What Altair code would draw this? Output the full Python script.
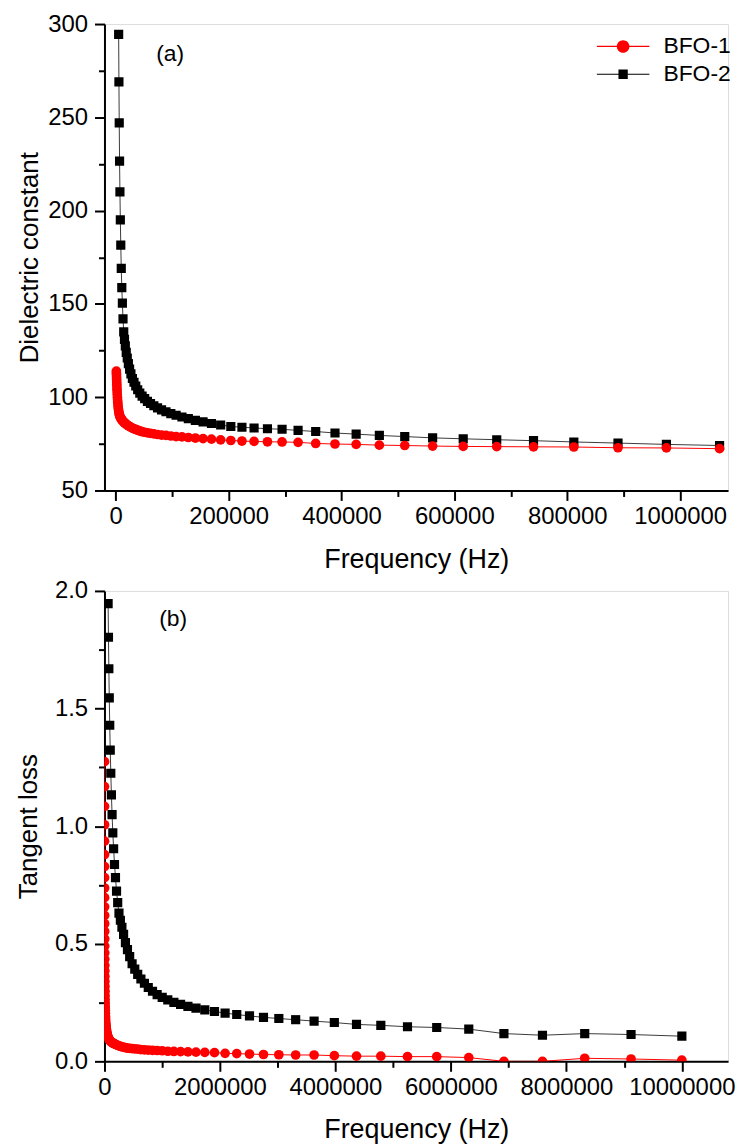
import altair as alt
import pandas as pd

# ---------------- Panel (a): dielectric constant ----------------
FREQ_A = [1070, 1173, 1286, 1411, 1547, 1696, 1859, 2039, 2236, 2451, 2688, 2947,
          3231, 3543, 3885, 4260, 4671, 5121, 5615, 6157, 6751, 7403, 8117, 8900,
          9758, 10700, 11730, 12860, 14110, 15470, 16960, 18590, 20390, 22360, 24510,
          26880, 29470, 32310, 35430, 38850, 42600, 46710, 51210, 56150, 61570, 67510,
          74030, 81170, 89000, 97580, 107000, 117300, 128600, 141100, 154700, 169600,
          185900, 203900, 223600, 245100, 268800, 294700, 323100, 354300, 388500,
          426000, 467100, 512100, 561500, 615700, 675100, 740300, 811700, 890000,
          975800, 1070000]

# BFO-1 (red circles) - all frequencies
EPS_BFO1_A = [114.0, 113.0, 112.0, 110.8, 109.6, 108.3, 107.0, 105.6, 104.2, 102.8, 101.4, 100.0,
              98.6, 97.3, 96.0, 94.8, 93.7, 92.7, 91.8, 91.0, 90.3, 89.7, 89.2, 88.7,
              88.3, 87.9, 87.5, 87.1, 86.7, 86.3, 85.9, 85.5, 85.1, 84.7, 84.3,
              83.9, 83.5, 83.1, 82.7, 82.3, 81.9, 81.5, 81.2, 80.9, 80.6, 80.3,
              80.0, 79.7, 79.5, 79.2, 78.9, 78.7, 78.4, 78.1, 77.8, 77.5,
              77.1, 76.8, 76.5, 76.3, 76.1, 76.0, 75.8, 75.2, 74.9,
              74.7, 74.3, 74.1, 73.8, 73.6, 73.5, 73.4, 73.3, 72.9,
              72.8, 72.4]

# BFO-2 (black squares) - frequencies from 5121 Hz (lower ones are off-scale)
FREQ_BFO2_A = FREQ_A[17:]
EPS_BFO2_A = [294.5, 269.0, 247.0, 226.5, 210.0, 195.0, 181.5,
              169.0, 158.7, 150.4, 142.0, 135.0, 131.0, 127.5, 124.0, 121.0, 118.0, 115.0,
              112.5, 110.0, 108.0, 106.0, 104.0, 102.2, 100.6, 99.2, 97.8, 96.6, 95.4,
              94.3, 93.2, 92.2, 91.2, 90.3, 89.4, 88.5, 87.6, 86.8, 85.9,
              85.1, 84.3, 83.9, 83.5, 83.1, 82.8, 82.2, 81.6, 80.8,
              80.2, 79.5, 78.9, 78.2, 77.7, 77.2, 76.7, 76.0, 75.4,
              74.7, 74.1]

# ---------------- Panel (b): tangent loss ----------------
FREQ_B = [1096, 1202, 1318, 1445, 1585, 1738, 1905, 2089, 2291, 2512, 2754, 3020, 3311,
          3631, 3981, 4365, 4786, 5248, 5754, 6310, 6918, 7586, 8318, 9120, 10000,
          10965, 12023, 13183, 14454, 15849, 17378, 19055, 20893, 22909, 25119, 27542,
          30200, 33113, 36308, 39811, 43652, 47863, 52481, 57544, 63096, 69183, 75858,
          83176, 91201, 100000,
          109648, 120226, 131826, 144544, 158489, 173780, 190546, 208930, 229087,
          251189, 275423, 301995, 331131, 363078, 398107, 436516, 478630, 524807,
          575440, 630957, 691831, 758578, 831764, 912011, 1000000,
          1096478, 1202264, 1318257, 1445440, 1584893, 1737801, 1905461, 2089296,
          2290868, 2511886, 2754229, 3019952, 3311311, 3630781, 3981072, 4365158,
          4786301, 5248075, 5754399, 6309573, 6918310, 7585776, 8317638, 9120108,
          10000000]

# BFO-1 (black squares) - from 63 kHz (lower ones are off-scale)
FREQ_BFO1_B = FREQ_B[44:]
TAN_BFO1_B = [1.946, 1.803, 1.669, 1.545, 1.429, 1.323,
              1.225, 1.133, 1.049, 0.971, 0.904, 0.837, 0.781, 0.724, 0.675,
              0.630, 0.600, 0.570, 0.540, 0.505, 0.475, 0.445, 0.415, 0.392,
              0.370, 0.350, 0.332, 0.314, 0.298, 0.284, 0.272,
              0.261, 0.251, 0.242, 0.234, 0.226, 0.219, 0.212, 0.205,
              0.199, 0.193, 0.187, 0.182, 0.177, 0.171, 0.165, 0.157,
              0.153, 0.147, 0.144, 0.137, 0.118, 0.111, 0.118, 0.114,
              0.107]

# BFO-2 (red circles) - all frequencies
TAN_BFO2_B = [1.274, 1.168, 1.084, 1.006, 0.936, 0.879, 0.828, 0.781, 0.737, 0.696, 0.657, 0.620, 0.585,
              0.552, 0.520, 0.490, 0.461, 0.434, 0.408, 0.384, 0.361, 0.339, 0.318, 0.298, 0.279,
              0.262, 0.246, 0.231, 0.217, 0.204, 0.192, 0.181, 0.171, 0.162, 0.154, 0.147,
              0.141, 0.135, 0.129, 0.124, 0.119, 0.114, 0.110, 0.106, 0.102, 0.098, 0.095,
              0.092, 0.089, 0.086,
              0.084, 0.082, 0.080, 0.078, 0.076, 0.074, 0.072, 0.070, 0.068,
              0.066, 0.064, 0.062, 0.060, 0.058, 0.056, 0.055, 0.054, 0.053,
              0.052, 0.050, 0.049, 0.048, 0.047, 0.046, 0.045,
              0.043, 0.042, 0.041, 0.040, 0.039, 0.038, 0.037, 0.034,
              0.033, 0.031, 0.029, 0.028, 0.027, 0.027, 0.024, 0.022,
              0.022, 0.020, 0.020, 0.016, 0.000, 0.000, 0.013, 0.010,
              0.005]

SERIES = ["BFO-1", "BFO-2"]
TAGS = ["(a)", "(b)"]

X_TICKS_A = [0, 200000, 400000, 600000, 800000, 1000000]
X_MINOR_A = [100000, 300000, 500000, 700000, 900000]
Y_TICKS_A = [50, 100, 150, 200, 250, 300]
Y_MINOR_A = [75, 125, 175, 225, 275]

X_TICKS_B = [0, 2000000, 4000000, 6000000, 8000000, 10000000]
X_MINOR_B = [1000000, 3000000, 5000000, 7000000, 9000000]
Y_TICKS_B = [0.0, 0.5, 1.0, 1.5, 2.0]
Y_MINOR_B = [0.25, 0.75, 1.25, 1.75]

assert len(FREQ_A) == len(EPS_BFO1_A)
assert len(FREQ_BFO2_A) == len(EPS_BFO2_A)
assert len(FREQ_B) == len(TAN_BFO2_B)
assert len(FREQ_BFO1_B) == len(TAN_BFO1_B)

FONT = "Arial"
LABEL_SIZE = 24
XTITLE_SIZE = 27
YTITLE_SIZE = 26
TAG_SIZE = 23
RED = "#ff0000"
BLACK = "#000000"

# legend symbols: a short line with a marker on it
PATH_CIRCLE = ("M-4.8,-0.1H4.8V0.1H-4.8Z "
               "M-1.15,0A1.15,1.15 0 1,1 1.15,0A1.15,1.15 0 1,1 -1.15,0Z")
PATH_SQUARE = ("M-4.8,-0.1H4.8V0.1H-4.8Z "
               "M-0.85,-0.85H0.85V0.85H-0.85Z")


def main_axis(values, fmt, title, orient, title_pad):
    return alt.Axis(values=values, format=fmt, title=title, orient=orient, grid=False,
                    labelFont=FONT, labelFontSize=LABEL_SIZE, labelColor="black",
                    titleFont=FONT,
                    titleFontSize=YTITLE_SIZE if orient == "left" else XTITLE_SIZE,
                    titleFontWeight="normal",
                    titleColor="black", tickSize=10, tickWidth=2, tickColor="black",
                    domainColor="black", domainWidth=2, labelOverlap=False,
                    labelFlush=False, labelBound=False,
                    labelPadding=7 if orient == "left" else 4,
                    titlePadding=title_pad)


def minor_axis(values, orient):
    return alt.Axis(values=values, labels=False, domain=False, grid=False, title=None,
                    orient=orient, tickSize=6, tickWidth=2, tickColor="black")


def panel(df_red, df_black, xscale, yscale, xt, xm, yt, ym, yfmt, ytitle, ytitle_pad,
          colors, shapes, tag, tag_x, tag_y, legend_x, legend_y, width, height, red_first):
    x_main = alt.X("f:Q", scale=xscale,
                   axis=main_axis(xt, "d", "Frequency (Hz)", "bottom", 18))
    y_main = alt.Y("v:Q", scale=yscale, axis=main_axis(yt, yfmt, ytitle, "left", ytitle_pad))
    x_plain = alt.X("f:Q", scale=xscale, axis=None)
    y_plain = alt.Y("v:Q", scale=yscale, axis=None)

    red_line = alt.Chart(df_red).mark_line(color=RED, strokeWidth=1, clip=True).encode(
        x=x_plain, y=y_plain)
    red_pts = alt.Chart(df_red).mark_point(shape="circle", filled=True, color=RED,
                                           size=95, opacity=1, clip=True).encode(
        x=x_plain, y=y_plain)
    blk_line = alt.Chart(df_black).mark_line(color="#3a3a3a", strokeWidth=1, clip=True).encode(
        x=x_plain, y=y_plain)
    blk_pts = alt.Chart(df_black).mark_point(shape="square", filled=True, color=BLACK,
                                             size=85, opacity=1, clip=True).encode(
        x=x_plain, y=y_plain)

    leg = alt.Legend(title=None, orient="none", legendX=legend_x, legendY=legend_y,
                     labelFont=FONT, labelFontSize=TAG_SIZE, labelColor="black",
                     symbolSize=121, symbolStrokeWidth=0, labelOffset=29,
                     rowPadding=4, padding=0, symbolOpacity=1)
    legend_layer = alt.Chart(df_red).transform_filter("false").mark_point(
        filled=True, opacity=1).encode(
        x=alt.X("f:Q", scale=xscale, axis=minor_axis(xm, "bottom")),
        y=alt.Y("v:Q", scale=yscale, axis=minor_axis(ym, "left")),
        color=alt.Color("series:N", scale=alt.Scale(domain=SERIES, range=colors), legend=leg),
        shape=alt.Shape("series:N", scale=alt.Scale(domain=SERIES, range=shapes), legend=leg),
    )
    axis_layer = alt.Chart(df_red).transform_filter("false").mark_point(opacity=0).encode(
        x=x_main, y=y_main)

    tag_layer = alt.Chart(pd.DataFrame({"tag": [tag]})).mark_text(
        align="left", baseline="middle", font=FONT, fontSize=TAG_SIZE, color="black"
    ).encode(text="tag:N", x=alt.value(tag_x), y=alt.value(tag_y))

    if red_first:
        marks = [red_line, red_pts, blk_line, blk_pts]
    else:
        marks = [blk_line, blk_pts, red_line, red_pts]

    return alt.layer(axis_layer, *marks, legend_layer, tag_layer).resolve_axis(
        x="independent", y="independent").properties(width=width, height=height)


df_a_red = pd.DataFrame({"f": FREQ_A, "v": EPS_BFO1_A})
df_a_blk = pd.DataFrame({"f": FREQ_BFO2_A, "v": EPS_BFO2_A})
df_b_red = pd.DataFrame({"f": FREQ_B, "v": TAN_BFO2_B})
df_b_blk = pd.DataFrame({"f": FREQ_BFO1_B, "v": TAN_BFO1_B})

PLOT_W = 627

chart_a = panel(df_a_red, df_a_blk,
                alt.Scale(domain=[-20000, 1085000], nice=False, zero=False),
                alt.Scale(domain=[50, 300], nice=False, zero=False),
                X_TICKS_A, X_MINOR_A, Y_TICKS_A, Y_MINOR_A, "d", "Dielectric constant", 5,
                [RED, BLACK], [PATH_CIRCLE, PATH_SQUARE], TAGS[0], 52, 30, 510, 11,
                PLOT_W, 469, False)

chart_b = panel(df_b_red, df_b_blk,
                alt.Scale(domain=[0, 10800000], nice=False, zero=False),
                alt.Scale(domain=[0, 2.0], nice=False, zero=False),
                X_TICKS_B, X_MINOR_B, Y_TICKS_B, Y_MINOR_B, ".1f", "Tangent loss", 13,
                [BLACK, RED], [PATH_SQUARE, PATH_CIRCLE], TAGS[1], 55, 28, 516, 11,
                PLOT_W, 473, True)

chart = alt.vconcat(chart_a, chart_b, spacing=5).properties(
    padding={"left": 7, "top": 0, "right": 0, "bottom": 0}
).configure_view(stroke="black", strokeWidth=2).configure(background="white")

chart.save("out.html", embed_options={"renderer": "svg", "actions": False})
